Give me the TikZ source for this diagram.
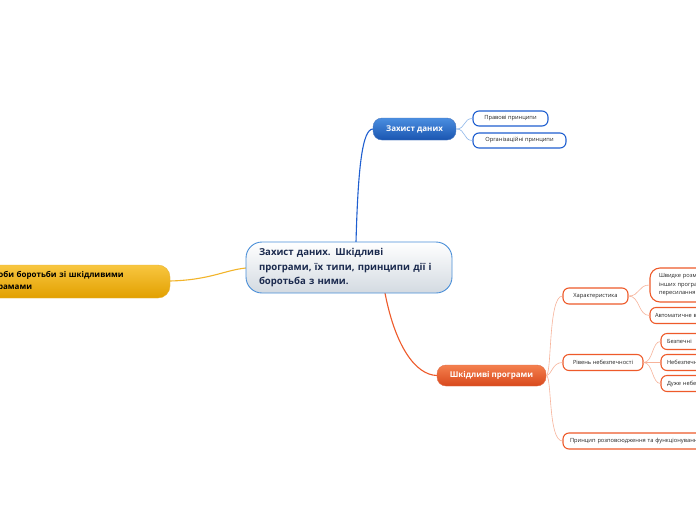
\documentclass[tikz,border=0pt]{standalone}
\usepackage{fontspec}
\setmainfont{Open Sans}
\usetikzlibrary{calc}
\definecolor{navy}{HTML}{1B2A4E}
\definecolor{rootb}{HTML}{4A8FD8}
\definecolor{rootg}{HTML}{D3DAE1}
\definecolor{blueA}{HTML}{4A8EE0}
\definecolor{blueB}{HTML}{1A55B0}
\definecolor{blueL}{HTML}{1F5FD0}
\definecolor{blueT}{HTML}{8DB6EA}
\definecolor{orA}{HTML}{F4804E}
\definecolor{orB}{HTML}{D8481C}
\definecolor{orL}{HTML}{EE5A2A}
\definecolor{orT}{HTML}{F7B39A}
\definecolor{yeA}{HTML}{F8C640}
\definecolor{yeB}{HTML}{E2A000}
\definecolor{yeL}{HTML}{F2B42A}
\tikzset{
  rootbox/.style={draw=rootb, line width=0.9pt, rounded corners=16pt, top color=white, bottom color=rootg, minimum width=206pt, minimum height=51pt, text width=180pt, align=left, font=\fontsize{9.6}{14.5}\selectfont\bfseries, text=navy, inner sep=0pt},
  bluemain/.style={rounded corners=9pt, top color=blueA, bottom color=blueB, draw=blueB!80, minimum width=83pt, minimum height=22pt, text=white, font=\fontsize{8}{9}\selectfont\bfseries, inner sep=0pt},
  ormain/.style={rounded corners=9pt, top color=orA, bottom color=orB, draw=orB!80, minimum width=109pt, minimum height=21pt, text=white, font=\fontsize{8}{9}\selectfont\bfseries, inner sep=0pt},
  yemain/.style={rounded corners=12pt, top color=yeA, bottom color=yeB, draw=yeB!80, minimum width=202pt, minimum height=33pt, text width=180pt, align=left, text=black, font=\fontsize{8}{12}\selectfont\bfseries, inner sep=0pt},
  bsub/.style={draw=blueL, line width=1.1pt, fill=white, rounded corners=6pt, minimum height=15pt, inner sep=0pt, font=\fontsize{5.7}{7}\selectfont, text=black!85},
  osub/.style={draw=orL, line width=1.1pt, fill=white, rounded corners=6pt, minimum height=16pt, inner sep=0pt, font=\fontsize{5.7}{7}\selectfont, text=black!85},
  bline/.style={draw=blueL, line width=1.1pt},
  oline/.style={draw=orL, line width=1.1pt},
  yline/.style={draw=yeL, line width=1.1pt},
  bthin/.style={draw=blueT, line width=0.6pt},
  othin/.style={draw=orT, line width=0.6pt},
}
\begin{document}
\begin{tikzpicture}[x=1pt,y=-1pt]
\useasboundingbox (0,0) rectangle (696,520);
\clip (0,0) rectangle (696,520);
\fill[white] (0,0) rectangle (696,520);

% connectors (drawn first)
\coordinate (rtop) at (356,242);
\coordinate (rbot) at (385,293);
\coordinate (rleft) at (246,268);
\draw[bline] (rtop) .. controls (358,170) and (362,129) .. (373,129);
\draw[oline] (rbot) .. controls (395,345) and (415,375) .. (437,375.5);
\draw[yline] (170,281) .. controls (210,280) and (225,270) .. (rleft);

% root
\node[rootbox] (root) at (349,267.5) {Захист даних. Шкідливі\\програми, їх типи, принципи дії і\\боротьба з ними.};

% blue branch
\node[bluemain] (zd) at (414.5,129) {Захист даних};
\node[bsub, minimum width=75pt] (pp) at (510.5,118.5) {Правові принципи};
\node[bsub, minimum width=93pt] (op) at (519.5,140.5) {Організаційні принципи};
\draw[bthin] (zd.east) .. controls (466,129) and (463,118.5) .. (pp.west);
\draw[bthin] (zd.east) .. controls (466,129) and (463,140.5) .. (op.west);

% yellow branch
\node[yemain] (sb) at (69,281.5) {Способи боротьби зі шкідливими\\програмами};

% orange branch
\node[ormain] (sp) at (491.5,375.5) {Шкідливі програми};
\node[osub, minimum width=65pt] (ch) at (595.5,296) {Характеристика};
\node[osub, minimum width=80pt] (rn) at (603,362.5) {Рівень небезпечності};
\node[osub, minimum width=200pt, text width=186pt, align=left] (pr) at (663,441) {Принцип розповсюдження та функціонування};
\draw[othin] (sp.east) .. controls (552,375) and (548,296) .. (ch.west);
\draw[othin] (sp.east) .. controls (552,375) and (552,362.5) .. (rn.west);
\draw[othin] (sp.east) .. controls (552,375) and (548,441) .. (pr.west);

\node[osub, minimum width=110pt, minimum height=34pt, rounded corners=10pt, text width=92pt, align=left, font=\fontsize{5.7}{8.5}\selectfont] (sh) at (705,285) {Швидке розмноження,\\інших програм,\\пересилання};
\node[osub, minimum width=110pt, text width=100pt, align=left] (av) at (705,315.5) {Автоматичне виконання};
\draw[othin] (ch.east) .. controls (640,296) and (638,285) .. (sh.west);
\draw[othin] (ch.east) .. controls (640,296) and (638,315.5) .. (av.west);

\node[osub, minimum width=100pt, text width=88pt, align=left] (b1) at (711,341.5) {Безпечні};
\node[osub, minimum width=100pt, text width=88pt, align=left] (b2) at (711,362.5) {Небезпечні};
\node[osub, minimum width=100pt, text width=88pt, align=left] (b3) at (711,383.5) {Дуже небезпечні};
\draw[othin] (rn.east) .. controls (653,362.5) and (652,341.5) .. (b1.west);
\draw[othin] (rn.east) -- (b2.west);
\draw[othin] (rn.east) .. controls (653,362.5) and (652,383.5) .. (b3.west);
\end{tikzpicture}
\end{document}
